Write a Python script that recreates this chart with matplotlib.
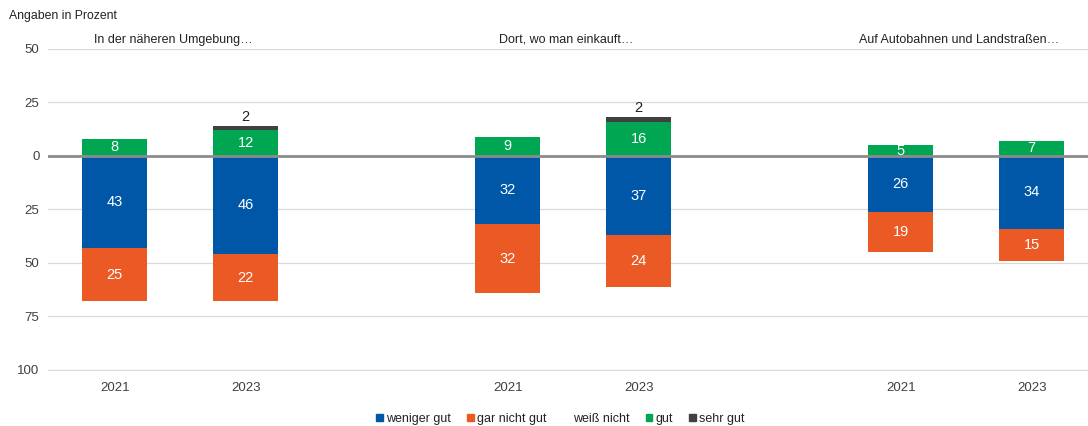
import numpy as np
import matplotlib
matplotlib.use("Agg")
import matplotlib.pyplot as plt
from matplotlib.patches import Patch
from matplotlib.ticker import FuncFormatter

plt.rcParams['font.family'] = ['Liberation Sans', 'DejaVu Sans']

groups = ['In der näheren Umgebung…', 'Dort, wo man einkauft…', 'Auf Autobahnen und Landstraßen…']
years = ['2021', '2023', '2021', '2023', '2021', '2023']

# positive side (stacked upward from 0)
gut = [8, 12, 9, 16, 5, 7]
sehr_gut = [0, 2, 0, 2, 0, 0]
# negative side (stacked downward from 0)
weniger_gut = [43, 46, 32, 37, 26, 34]
gar_nicht_gut = [25, 22, 32, 24, 19, 15]

c_blue = '#0057a8'
c_orange = '#eb5a25'
c_green = '#00a651'
c_dark = '#404040'
c_text = '#404040'

x = np.array([0, 1, 3, 4, 6, 7])
w = 0.5

fig = plt.figure(figsize=(10.88, 4.26), dpi=100)
ax = fig.add_axes([0.044, 0.129, 0.956, 0.756])

gut = np.array(gut)
sehr_gut = np.array(sehr_gut)
weniger_gut = np.array(weniger_gut)
gar_nicht_gut = np.array(gar_nicht_gut)

ax.bar(x, gut, w, color=c_green, zorder=3)
ax.bar(x, sehr_gut, w, bottom=gut, color=c_dark, zorder=3)
ax.bar(x, -weniger_gut, w, color=c_blue, zorder=3)
ax.bar(x, -gar_nicht_gut, w, bottom=-weniger_gut, color=c_orange, zorder=3)

fs_bar = 10.5
for i in range(len(x)):
    ax.text(x[i], gut[i] / 2, str(gut[i]), ha='center', va='center',
            color='white', fontsize=fs_bar, zorder=4)
    ax.text(x[i], -weniger_gut[i] / 2, str(weniger_gut[i]), ha='center', va='center',
            color='white', fontsize=fs_bar, zorder=4)
    ax.text(x[i], -weniger_gut[i] - gar_nicht_gut[i] / 2, str(gar_nicht_gut[i]),
            ha='center', va='center', color='white', fontsize=fs_bar, zorder=4)
    if sehr_gut[i] > 0:
        ax.text(x[i], gut[i] + sehr_gut[i] + 1, str(sehr_gut[i]), ha='center', va='bottom',
                color='#222222', fontsize=fs_bar, zorder=4)

ax.axhline(0, color='#8c8c8c', linewidth=2, zorder=5)

ax.set_ylim(-100.5, 50)
ax.set_xlim(-0.51, 7.43)
ax.set_yticks([-100, -75, -50, -25, 0, 25, 50])
ax.yaxis.set_major_formatter(FuncFormatter(lambda v, p: f'{abs(int(round(v)))}'))
ax.grid(axis='y', color='#d9d9d9', linewidth=0.9, zorder=0)
ax.set_xticks(x)
ax.set_xticklabels(years)
ax.tick_params(axis='both', length=0, labelsize=9.5, colors=c_text)
ax.tick_params(axis='x', pad=8)
ax.tick_params(axis='y', pad=6)
for s in ax.spines.values():
    s.set_visible(False)

for g, name in enumerate(groups):
    cx = (x[2 * g] + x[2 * g + 1]) / 2
    ax.text(cx - 0.05, 51.5, name, ha='center', va='bottom', fontsize=9, color='#222222')

fig.text(0.008, 0.962, 'Angaben in Prozent', ha='left', va='center', fontsize=8.8, color='#222222')

handles = [Patch(color=c_blue), Patch(color=c_orange), Patch(color='white'),
           Patch(color=c_green), Patch(color=c_dark)]
labels = ['weniger gut', 'gar nicht gut', 'weiß nicht', 'gut', 'sehr gut']
fig.legend(handles, labels, loc='center', bbox_to_anchor=(0.515, 0.017), ncol=5,
           frameon=False, fontsize=9, handlelength=0.55, handleheight=0.55,
           handletextpad=0.25, columnspacing=1.3, labelcolor='#222222')

fig.savefig('out.png', dpi=100)
